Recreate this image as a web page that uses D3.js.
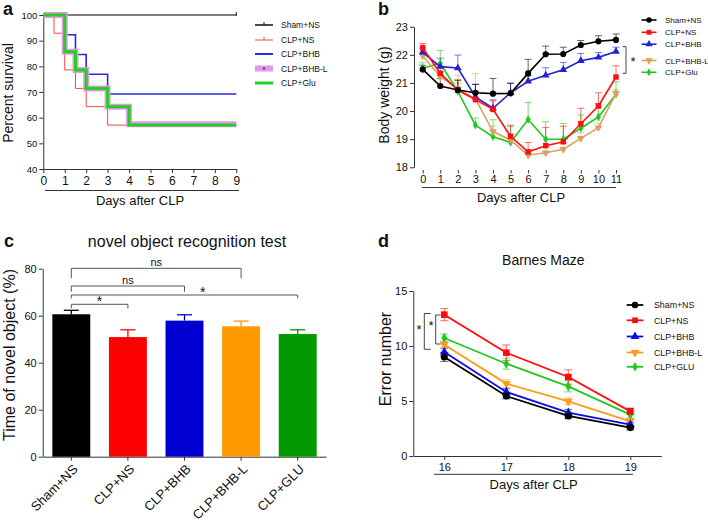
<!DOCTYPE html>
<html><head><meta charset="utf-8">
<script src="https://cdn.jsdelivr.net/npm/d3@7"></script>
<style>
body{margin:0;background:#fff}
svg{display:block}
text{font-family:"Liberation Sans",Arial,Helvetica,sans-serif;fill:#111}
</style>
</head><body>
<svg id="chart" width="708" height="524"></svg>
<script>
// ---------------- DATA ----------------
// Panel a: Kaplan-Meier survival
const survGroups = ["Sham+NS","CLP+NS","CLP+BHB","CLP+BHB-L","CLP+Glu"];
const shamSurvT = [0, 9];
const shamSurvY = [100, 100];
const clpNsSurvT = [0, 0.5, 1, 1.5, 2, 3, 9];
const clpNsSurvY = [100, 92.9, 78.6, 71.4, 64.3, 57.1, 57.1];
const bhbSurvT = [0, 1, 1.5, 2, 3, 9];
const bhbSurvY = [100, 92.3, 84.6, 76.9, 69.2, 69.2];
const bhbLSurvT = [0, 1, 1.5, 2, 3, 4, 9];
const bhbLSurvY = [100, 85.7, 78.6, 71.4, 64.3, 57.4, 57.4];
const gluSurvT = [0, 1, 1.5, 2, 3, 4, 9];
const gluSurvY = [100, 85.7, 78.6, 71.4, 64.3, 57.1, 57.1];
const survXTicks = [0,1,2,3,4,5,6,7,8,9];
const survYTicks = [40,50,60,70,80,90,100];

// Panel b: body weight
const bwGroups = ["Sham+NS","CLP+NS","CLP+BHB","CLP+BHB-L","CLP+Glu"];
const bwDays = [0,1,2,3,4,5,6,7,8,9,10,11];
const shamBW = [21.48,20.89,20.75,20.65,20.62,20.63,21.34,22.02,22.03,22.35,22.48,22.53];
const clpNsBW = [22.25,21.34,20.74,20.41,20.06,19.10,18.55,18.77,18.91,19.55,20.18,21.21];
const bhbBW = [22.09,21.58,21.53,20.50,20.10,20.65,21.06,21.27,21.47,21.79,21.91,22.12];
const bhbLBW = [21.97,21.22,20.80,20.43,19.27,18.97,18.43,18.52,18.64,19.03,19.41,20.63];
const gluBW = [21.52,21.70,20.70,19.50,19.09,18.89,19.70,19.00,19.00,19.39,19.79,20.60];
const shamBWErr = [0.15,0.27,0.35,0.30,0.54,0.36,0.50,0.29,0.24,0.16,0.20,0.21];
const clpNsBWErr = [0.15,0.25,0.36,0.30,0.30,0.40,0.33,0.65,0.55,0.55,0.47,0.40];
const bhbBWErr = [0.15,0.30,0.46,0.45,0.30,0.34,0.20,0.27,0.26,0.26,0.17,0.15];
const bhbLBWErr = [0.15,0.20,0.48,0.90,0.20,0.20,0.15,0.20,0.20,0.20,0.15,0.14];
const gluBWErr = [0.20,0.45,0.30,0.25,0.60,0.56,0.60,0.62,0.56,0.47,0.48,0.44];
const bwYTicks = [18,19,20,21,22,23];

// Panel c: novel object recognition
const norGroups = ["Sham+NS","CLP+NS","CLP+BHB","CLP+BHB-L","CLP+GLU"];
const norMean = [60.6, 50.9, 57.9, 55.5, 52.2];
const norErr = [1.7, 3.1, 2.5, 2.2, 1.8];
const norYTicks = [0,20,40,60,80];
const norCompare = [["Sham+NS","CLP+BHB-L","ns"],["Sham+NS","CLP+BHB","ns"],["Sham+NS","CLP+GLU","*"],["Sham+NS","CLP+NS","*"]];

// Panel d: Barnes maze
const bmGroups = ["Sham+NS","CLP+NS","CLP+BHB","CLP+BHB-L","CLP+GLU"];
const bmDays = [16,17,18,19];
const shamBM = [9.00,5.45,3.64,2.58];
const clpNsBM = [12.85,9.39,7.18,4.06];
const bhbBM = [9.45,5.82,3.94,2.85];
const bhbLBM = [10.12,6.58,4.97,3.15];
const gluBM = [10.73,8.39,6.33,3.76];
const shamBMErr = [0.40,0.25,0.25,0.20];
const clpNsBMErr = [0.55,0.70,0.65,0.30];
const bhbBMErr = [0.35,0.30,0.30,0.20];
const bhbLBMErr = [0.30,0.35,0.30,0.25];
const gluBMErr = [0.35,0.50,0.50,0.30];
const bmYTicks = [0,5,10,15];

// ---------------- DRAW ----------------
const svg = d3.select("#chart");
const AX = "#333";
const FONT = '"Liberation Sans",Arial,Helvetica,sans-serif';
const fmtInt = d3.format("d");

function styleAxis(g, fs){
  g.selectAll("path.domain").attr("stroke",AX).attr("stroke-width",1);
  g.selectAll(".tick line").attr("stroke",AX).attr("stroke-width",1);
  g.selectAll(".tick text").attr("font-size",fs).attr("font-family",FONT).attr("fill","#222");
}
function txt(x,y,s,fs,opts={}){
  const t = svg.append("text").attr("x",x).attr("y",y).attr("font-size",fs).text(s)
    .attr("text-anchor",opts.anchor||"middle");
  if(opts.bold) t.attr("font-weight","bold");
  if(opts.rot) t.attr("transform",`rotate(${opts.rot},${x},${y})`);
  return t;
}
const sym = {
  circle: d3.symbol().type(d3.symbolCircle),
  square: d3.symbol().type(d3.symbolSquare),
  tri: d3.symbol().type(d3.symbolTriangle),
  diamond: d3.symbol().type(d3.symbolDiamond)
};
function marker(g, kind, x, y, size, color){
  const isDown = kind === "triDown";
  const gen = isDown ? sym.tri : sym[kind];
  g.append("path").attr("d", gen.size(size)())
    .attr("transform", `translate(${x},${y})` + (isDown ? " rotate(180)" : ""))
    .attr("fill", color);
}

// Panel letters
txt(3,15,"a",18,{anchor:"start",bold:true});
txt(378,15,"b",18,{anchor:"start",bold:true});
txt(4,247,"c",18,{anchor:"start",bold:true});
txt(378,247,"d",18,{anchor:"start",bold:true});

// ===== Panel a =====
(function(){
  const x = d3.scaleLinear().domain([0,9]).range([43.3,236.3]);
  const y = d3.scaleLinear().domain([40,100]).range([169,15]);
  const gy = svg.append("g").attr("transform","translate(43.3,0)")
    .call(d3.axisLeft(y).tickValues(survYTicks).tickFormat(fmtInt).tickSize(4).tickSizeOuter(0).tickPadding(2));
  styleAxis(gy, 9.5);
  const gx = svg.append("g").attr("transform","translate(0,169)")
    .call(d3.axisBottom(x).tickValues(survXTicks).tickFormat(fmtInt).tickSize(4).tickSizeOuter(0).tickPadding(3));
  styleAxis(gx, 12);
  svg.append("line").attr("x1",45).attr("x2",239).attr("y1",190.5).attr("y2",190.5).attr("stroke",AX);
  txt(140,205,"Days after CLP",13);
  txt(13,93,"Percent survival",14,{rot:-90});

  const line = d3.line().x(d=>x(d[0])).y(d=>y(d[1])).curve(d3.curveStepAfter);
  const zipS = (t,v)=>t.map((d,i)=>[d,v[i]]);
  const series = [
    {d:zipS(shamSurvT,shamSurvY), c:"#555", w:1.5},
    {d:zipS(clpNsSurvT,clpNsSurvY), c:"#f04848", w:1},
    {d:zipS(bhbSurvT,bhbSurvY), c:"#2a2ad8", w:1.6},
    {d:zipS(bhbLSurvT,bhbLSurvY), c:"#e39ae6", w:6},
    {d:zipS(gluSurvT,gluSurvY), c:"#22d022", w:3}
  ];
  series.forEach(s=>{
    svg.append("path").attr("d",line(s.d)).attr("fill","none").attr("stroke",s.c).attr("stroke-width",s.w);
  });
  svg.append("line").attr("x1",x(9)).attr("x2",x(9)).attr("y1",y(100)-3).attr("y2",y(100)+1).attr("stroke","#222");

  // legend
  const ly = [25,40,54,68.5,83];
  const lc = ["#111","#f04848","#2a2ad8","#e39ae6","#22d022"];
  const lw = [1.5,1,2,6,3];
  survGroups.forEach((g,i)=>{
    svg.append("line").attr("x1",255).attr("x2",273).attr("y1",ly[i]).attr("y2",ly[i]).attr("stroke",lc[i]).attr("stroke-width",lw[i]);
    if(i===0||i===1) svg.append("line").attr("x1",264).attr("x2",264).attr("y1",ly[i]-3).attr("y2",ly[i]).attr("stroke",lc[i]);
    if(i===3) svg.append("circle").attr("cx",264).attr("cy",ly[i]).attr("r",1.3).attr("fill","#555");
    txt(281,ly[i]+3,g,8.5,{anchor:"start"});
  });
})();

// ===== Panel b =====
(function(){
  const x = d3.scaleLinear().domain([0,11]).range([422.7,616]);
  const y = d3.scaleLinear().domain([18,23]).range([167.3,26.7]);
  const gy = svg.append("g").attr("transform","translate(414,0)")
    .call(d3.axisLeft(y).tickValues(bwYTicks).tickFormat(fmtInt).tickSize(4).tickSizeOuter(0).tickPadding(2));
  styleAxis(gy, 11);
  const gx = svg.append("g").attr("transform","translate(0,170)")
    .call(d3.axisBottom(x).tickValues(bwDays).tickFormat(fmtInt).tickSize(3.5).tickSizeOuter(0).tickPadding(2));
  gx.select("path.domain").remove();
  styleAxis(gx, 11);
  svg.append("line").attr("x1",422).attr("x2",616).attr("y1",187.5).attr("y2",187.5).attr("stroke",AX);
  txt(521,201.5,"Days after CLP",13);
  txt(389,95,"Body weight (g)",14,{rot:-90});

  const series = [
    {v:gluBW,e:gluBWErr,c:"#22c722",m:"diamond",s:22},
    {v:bhbLBW,e:bhbLBWErr,c:"#d9a25e",m:"triDown",s:26},
    {v:bhbBW,e:bhbBWErr,c:"#2323d6",m:"tri",s:26},
    {v:clpNsBW,e:clpNsBWErr,c:"#ff1010",m:"square",s:30},
    {v:shamBW,e:shamBWErr,c:"#000",m:"circle",s:30}
  ];
  const line = d3.line().x((d,i)=>x(bwDays[i])).y(d=>y(d));
  const g = svg.append("g");
  series.forEach(s=>{
    s.v.forEach((v,i)=>{
      const cx = x(bwDays[i]), top = y(v+s.e[i]);
      g.append("line").attr("x1",cx).attr("x2",cx).attr("y1",y(v)).attr("y2",top).attr("stroke",s.c).attr("stroke-opacity",0.6);
      g.append("line").attr("x1",cx-3.5).attr("x2",cx+3.5).attr("y1",top).attr("y2",top).attr("stroke",s.c).attr("stroke-opacity",0.6);
    });
  });
  series.forEach(s=>{
    g.append("path").attr("d",line(s.v)).attr("fill","none").attr("stroke",s.c).attr("stroke-width",1.6);
    s.v.forEach((v,i)=>marker(g,s.m,x(bwDays[i]),y(v),s.s,s.c));
  });
  svg.append("path").attr("d","M622.7,46.7H626V73.3H622.7").attr("fill","none").attr("stroke","#444");
  txt(633,66,"*",13);

  // legend
  const ly = [20,32.3,44.2,60.5,72.3];
  const lc = ["#000","#ff1010","#2323d6","#d9a25e","#22c722"];
  const lm = ["circle","square","tri","triDown","diamond"];
  bwGroups.forEach((gname,i)=>{
    svg.append("line").attr("x1",641.5).attr("x2",656.5).attr("y1",ly[i]).attr("y2",ly[i]).attr("stroke",lc[i]).attr("stroke-width",1.6);
    marker(svg,lm[i],649,ly[i],i===4?18:24,lc[i]);
    txt(665,ly[i]+3,gname,8,{anchor:"start"});
  });
})();

// ===== Panel c =====
(function(){
  const x = d3.scaleBand().domain(norGroups).range([43,326]).paddingInner(0.33).paddingOuter(0.165);
  const y = d3.scaleLinear().domain([0,80]).range([456.7,268.7]);
  const colors = ["#000000","#ff0000","#0000d0","#ff9900","#009a00"];
  const gy = svg.append("g").attr("transform","translate(42.7,0)")
    .call(d3.axisLeft(y).tickValues(norYTicks).tickFormat(fmtInt).tickSize(4).tickSizeOuter(0).tickPadding(2));
  styleAxis(gy, 11);
  const gx = svg.append("g").attr("transform","translate(0,456.7)")
    .call(d3.axisBottom(x).tickSize(4).tickSizeOuter(0));
  styleAxis(gx, 13);
  gx.selectAll(".tick text").attr("text-anchor","end").attr("x",0).attr("y",0).attr("dy","0.35em")
    .attr("transform","translate(4,10) rotate(-45)");
  txt(15,355,"Time of novel object (%)",16,{rot:-90});
  txt(187,247,"novel object recognition test",16);

  norGroups.forEach((gname,i)=>{
    const bx = x(gname), bw = x.bandwidth(), cx = bx+bw/2;
    svg.append("rect").attr("x",bx).attr("y",y(norMean[i])).attr("width",bw).attr("height",y(0)-y(norMean[i])).attr("fill",colors[i]);
    const top = y(norMean[i]+norErr[i]);
    svg.append("line").attr("x1",cx).attr("x2",cx).attr("y1",y(norMean[i])).attr("y2",top).attr("stroke",colors[i]).attr("stroke-width",1.3);
    svg.append("line").attr("x1",cx-7.5).attr("x2",cx+7.5).attr("y1",top).attr("y2",top).attr("stroke",colors[i]).attr("stroke-width",1.3);
  });
  const levels = [268.3, 286, 295, 304.3];
  const legs = [10, 5.7, 3.3, 4];
  const labelPos = [0.52, 0.51, 0.58, 0.5];
  norCompare.forEach((c,i)=>{
    const x1 = x(c[0])+x.bandwidth()/2, x2 = x(c[1])+x.bandwidth()/2, yl = levels[i];
    svg.append("path").attr("d",`M${x1},${yl+legs[i]}V${yl}H${x2}V${yl+legs[i]}`).attr("fill","none").attr("stroke","#555").attr("stroke-width",1);
    const lx = c[2]==="ns" ? (x1+x2)/2 : x1+(x2-x1)*labelPos[i];
    if(c[2]==="ns") txt(lx, yl-2.5, "ns", 11);
    else txt(lx, yl+1.5, "*", 14);
  });
})();

// ===== Panel d =====
(function(){
  const x = d3.scaleLinear().domain([15.5,19.5]).range([413.3,661.3]);
  const y = d3.scaleLinear().domain([0,15]).range([456,291]);
  const gy = svg.append("g").attr("transform","translate(413.3,0)")
    .call(d3.axisLeft(y).tickValues(bmYTicks).tickFormat(fmtInt).tickSize(4).tickSizeOuter(0).tickPadding(2));
  styleAxis(gy, 11);
  const gx = svg.append("g").attr("transform","translate(0,456)")
    .call(d3.axisBottom(x).tickValues(bmDays).tickFormat(fmtInt).tickSize(4).tickSizeOuter(0).tickPadding(3));
  styleAxis(gx, 11);
  svg.append("line").attr("x1",434).attr("x2",633).attr("y1",474.3).attr("y2",474.3).attr("stroke",AX);
  txt(533.7,489,"Days after CLP",13);
  txt(391,359,"Error number",16,{rot:-90});
  txt(543.3,264.5,"Barnes Maze",14);

  const series = [
    {v:gluBM,e:gluBMErr,c:"#22c722",m:"diamond",s:30},
    {v:bhbLBM,e:bhbLBMErr,c:"#ff9a1a",m:"triDown",s:34},
    {v:bhbBM,e:bhbBMErr,c:"#0b0bea",m:"tri",s:34},
    {v:shamBM,e:shamBMErr,c:"#000",m:"circle",s:40},
    {v:clpNsBM,e:clpNsBMErr,c:"#ff0a0a",m:"square",s:44}
  ];
  const line = d3.line().x((d,i)=>x(bmDays[i])).y(d=>y(d));
  const g = svg.append("g");
  series.forEach(s=>{
    s.v.forEach((v,i)=>{
      const cx = x(bmDays[i]), t = y(v+s.e[i]), b = y(v-s.e[i]);
      g.append("line").attr("x1",cx).attr("x2",cx).attr("y1",b).attr("y2",t).attr("stroke",s.c).attr("stroke-opacity",0.6);
      [t,b].forEach(yy=>g.append("line").attr("x1",cx-4).attr("x2",cx+4).attr("y1",yy).attr("y2",yy).attr("stroke",s.c).attr("stroke-opacity",0.6));
    });
  });
  series.forEach(s=>{
    g.append("path").attr("d",line(s.v)).attr("fill","none").attr("stroke",s.c).attr("stroke-width",1.8);
    s.v.forEach((v,i)=>marker(g,s.m,x(bmDays[i]),y(v),s.s,s.c));
  });
  svg.append("path").attr("d","M430.7,313.5H424.3V349.3H430.7").attr("fill","none").attr("stroke","#444");
  svg.append("path").attr("d","M440.7,315H435.7V344H440.7").attr("fill","none").attr("stroke","#444");
  txt(419,334,"*",13);
  txt(431,330,"*",13);

  // legend
  const ly = [305,320.3,336.5,352.5,366.8];
  const lc = ["#000","#ff0a0a","#0b0bea","#ff9a1a","#22c722"];
  const lm = ["circle","square","tri","triDown","diamond"];
  bmGroups.forEach((gname,i)=>{
    svg.append("line").attr("x1",626.7).attr("x2",643.3).attr("y1",ly[i]).attr("y2",ly[i]).attr("stroke",lc[i]).attr("stroke-width",1.8);
    marker(svg,lm[i],635,ly[i],i===4?26:32,lc[i]);
    txt(654,ly[i]+3.2,gname,8.8,{anchor:"start"});
  });
})();
</script>
</body></html>
